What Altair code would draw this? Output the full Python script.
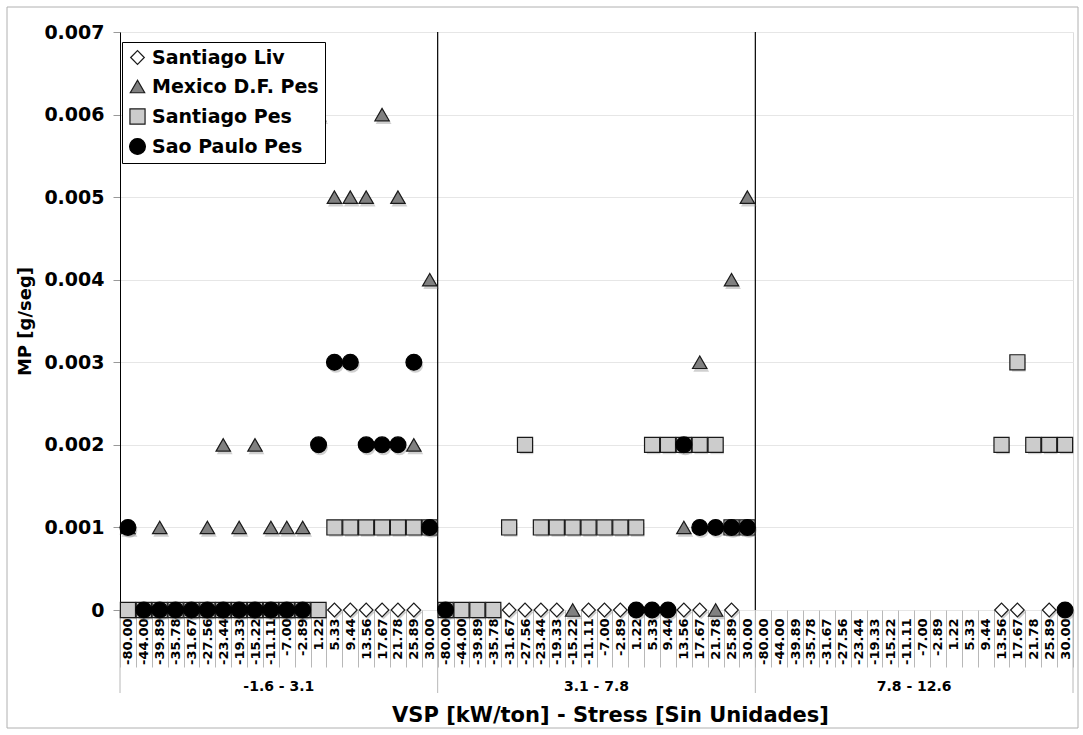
import altair as alt
import pandas as pd

# VSP bins (repeated inside each stress range) and the stress ranges
vsp_labels = ["-80.00", "-44.00", "-39.89", "-35.78", "-31.67", "-27.56", "-23.44",
              "-19.33", "-15.22", "-11.11", "-7.00", "-2.89", "1.22", "5.33", "9.44",
              "13.56", "17.67", "21.78", "25.89", "30.00"]
stress_groups = ["-1.6 - 3.1", "3.1 - 7.8", "7.8 - 12.6"]
series_names = ["Santiago Liv", "Mexico D.F. Pes", "Santiago Pes", "Sao Paulo Pes"]
y_ticks = [0, 0.001, 0.002, 0.003, 0.004, 0.005, 0.006, 0.007]

N = None
# MP [g/seg] per stress range, one list of 20 VSP bins each (None = no point)
santiago_liv = [
    [N, N, N, N, N, N, N, N, N, N, N, N, N, 0, 0, 0, 0, 0, 0, N],
    [N, N, N, N, 0, 0, 0, 0, N, 0, 0, 0, N, N, N, 0, 0, N, 0, N],
    [N, N, N, N, N, N, N, N, N, N, N, N, N, N, N, 0, 0, N, 0, N],
]
mexico_pes = [
    [0.001, N, 0.001, N, N, 0.001, 0.002, 0.001, 0.002, 0.001, 0.001, 0.001,
     0.006, 0.005, 0.005, 0.005, 0.006, 0.005, 0.002, 0.004],
    [N, N, N, N, N, N, N, N, 0, N, N, N, N, N, N, 0.001, 0.003, 0, 0.004, 0.005],
    [N, N, N, N, N, N, N, N, N, N, N, N, N, N, N, N, N, N, N, N],
]
santiago_pes = [
    [0, 0, 0, 0, 0, 0, 0, 0, 0, 0, 0, 0, 0,
     0.001, 0.001, 0.001, 0.001, 0.001, 0.001, 0.001],
    [0, 0, 0, 0, 0.001, 0.002, 0.001, 0.001, 0.001, 0.001, 0.001, 0.001, 0.001,
     0.002, 0.002, 0.002, 0.002, 0.002, 0.001, 0.001],
    [N, N, N, N, N, N, N, N, N, N, N, N, N, N, N, 0.002, 0.003, 0.002, 0.002, 0.002],
]
sao_paulo_pes = [
    [0.001, 0, 0, 0, 0, 0, 0, 0, 0, 0, 0, 0,
     0.002, 0.003, 0.003, 0.002, 0.002, 0.002, 0.003, 0.001],
    [0, N, N, N, N, N, N, N, N, N, N, N, 0, 0, 0, 0.002, 0.001, 0.001, 0.001, 0.001],
    [N, N, N, N, N, N, N, N, N, N, N, N, N, N, N, N, N, N, N, 0],
]

series_values = [santiago_liv, mexico_pes, santiago_pes, sao_paulo_pes]

# marker styling per series
marker_shapes = ["diamond", "triangle-up", "square", "circle"]
marker_fills = ["#ffffff", "#808080", "#cccccc", "#000000"]
marker_strokes = ["#1a1a1a", "#1a1a1a", "#1a1a1a", "#000000"]
marker_sizes = [185, 250, 185, 250]

keys = [f"{g + 1}|{v}" for g in range(len(stress_groups)) for v in vsp_labels]

rows = []
for s_idx, (name, per_group) in enumerate(zip(series_names, series_values)):
    for g, values in enumerate(per_group):
        for v_idx, val in enumerate(values):
            if val is not None:
                rows.append({"key": f"{g + 1}|{vsp_labels[v_idx]}", "series": name,
                             "order": s_idx, "mp": val})
points = pd.DataFrame(rows).sort_values("order", kind="stable")

W, H = 953, 578
FONT = "DejaVu Sans"

x_scale = alt.Scale(domain=keys, paddingInner=0, paddingOuter=0)
x_axis = alt.Axis(
    title="VSP [kW/ton] - Stress [Sin Unidades]",
    labelExpr="split(datum.label, '|')[1]",
    labelAngle=-90, labelFont=FONT, labelFontWeight="bold", labelFontSize=13,
    labelColor="black", labelPadding=-49, labelOverlap=False, labelBound=False,
    tickBand="extent", tickSize=57, tickColor="#b8b8b8", tickWidth=1,
    domain=False, grid=False,
    titleFont=FONT, titleFontSize=21, titleFontWeight="bold", titleColor="black",
    titleX=490, titleY=105, titleBaseline="middle", titleAlign="center",
)


def x_enc(band=0.5):
    return alt.X("key:N", scale=x_scale, axis=x_axis, bandPosition=band)


y_scale = alt.Scale(domain=[0, 0.007], nice=False, zero=True)
y_axis = alt.Axis(
    values=y_ticks, title="MP [g/seg]",
    labelExpr="datum.value == 0 ? '0' : format(datum.value, '.3f')",
    labelFont=FONT, labelFontWeight="bold", labelFontSize=19, labelColor="black",
    labelPadding=9, tickSize=7, tickColor="#999999",
    domainColor="black", gridColor="#e6e6e6", gridWidth=1,
    titleFont=FONT, titleFontSize=18, titleFontWeight="bold", titleColor="black",
    titleX=-95, titleBaseline="middle",
)

legend = alt.Legend(
    title=None, orient="none", legendX=2, legendY=10,
    strokeColor="black", fillColor="white", padding=6, rowPadding=9,
    labelFont=FONT, labelFontWeight="bold", labelFontSize=19, labelColor="black",
    labelOffset=5, labelLimit=400, symbolStrokeWidth=1.2,
)
shape_scale = alt.Scale(domain=series_names, range=marker_shapes)
fill_scale = alt.Scale(domain=series_names, range=marker_fills)
stroke_scale = alt.Scale(domain=series_names, range=marker_strokes)
size_scale = alt.Scale(domain=series_names, range=marker_sizes)

# outer frame around the whole figure
frame = alt.Chart(pd.DataFrame({"f": [0]})).mark_rect(
    fillOpacity=0, stroke="#b0b0b0", strokeWidth=1
).encode(x=alt.value(-113), x2=alt.value(958), y=alt.value(-25), y2=alt.value(696))

group_starts = pd.DataFrame({"key": [f"{g + 1}|{vsp_labels[0]}" for g in range(3)]})
inner_dividers = alt.Chart(group_starts.iloc[1:]).mark_rule(
    color="black", strokeWidth=1.2
).encode(x=x_enc(0), y=alt.value(0), y2=alt.value(H))
lower_dividers = alt.Chart(group_starts).mark_rule(
    color="#b8b8b8", strokeWidth=1
).encode(x=x_enc(0), y=alt.value(H), y2=alt.value(H + 83))
end_divider = alt.Chart(pd.DataFrame({"key": [keys[-1]]})).mark_rule(
    color="#b8b8b8", strokeWidth=1
).encode(x=x_enc(1), y=alt.value(H), y2=alt.value(H + 83))

# soft drop shadow under each marker, one layer per series
shadows = [
    alt.Chart(points).transform_filter(alt.datum.series == name).mark_point(
        filled=True, color="#777777", opacity=0.35, xOffset=1.5, yOffset=2.5,
        shape=shp, size=sz
    ).encode(x=x_enc(), y=alt.Y("mp:Q", scale=y_scale, axis=y_axis))
    for name, shp, sz in zip(series_names, marker_shapes, marker_sizes)
]

markers = alt.Chart(points).mark_point(
    filled=True, strokeWidth=1.2, opacity=1
).encode(
    x=x_enc(),
    y=alt.Y("mp:Q", scale=y_scale, axis=y_axis),
    shape=alt.Shape("series:N", scale=shape_scale, legend=legend),
    fill=alt.Fill("series:N", scale=fill_scale, legend=legend),
    stroke=alt.Stroke("series:N", scale=stroke_scale, legend=legend),
    size=alt.Size("series:N", scale=size_scale, legend=legend),
)

group_text = alt.Chart(pd.DataFrame({
    "key": [f"{g + 1}|{vsp_labels[10]}" for g in range(3)],
    "label": stress_groups,
})).mark_text(
    font=FONT, fontWeight="bold", fontSize=14, color="black", baseline="middle"
).encode(x=x_enc(0), y=alt.value(H + 77), text="label:N")

chart = alt.layer(
    frame, inner_dividers, lower_dividers, end_divider, *shadows, markers, group_text
).properties(
    width=W, height=H,
    autosize=alt.AutoSizeParams(type="none"),
    padding={"left": 120, "top": 32, "right": 10, "bottom": 125},
).configure_view(
    stroke="black", strokeWidth=1.5
).configure(background="white")

chart.save("out.html", embed_options={"renderer": "svg", "actions": False})
